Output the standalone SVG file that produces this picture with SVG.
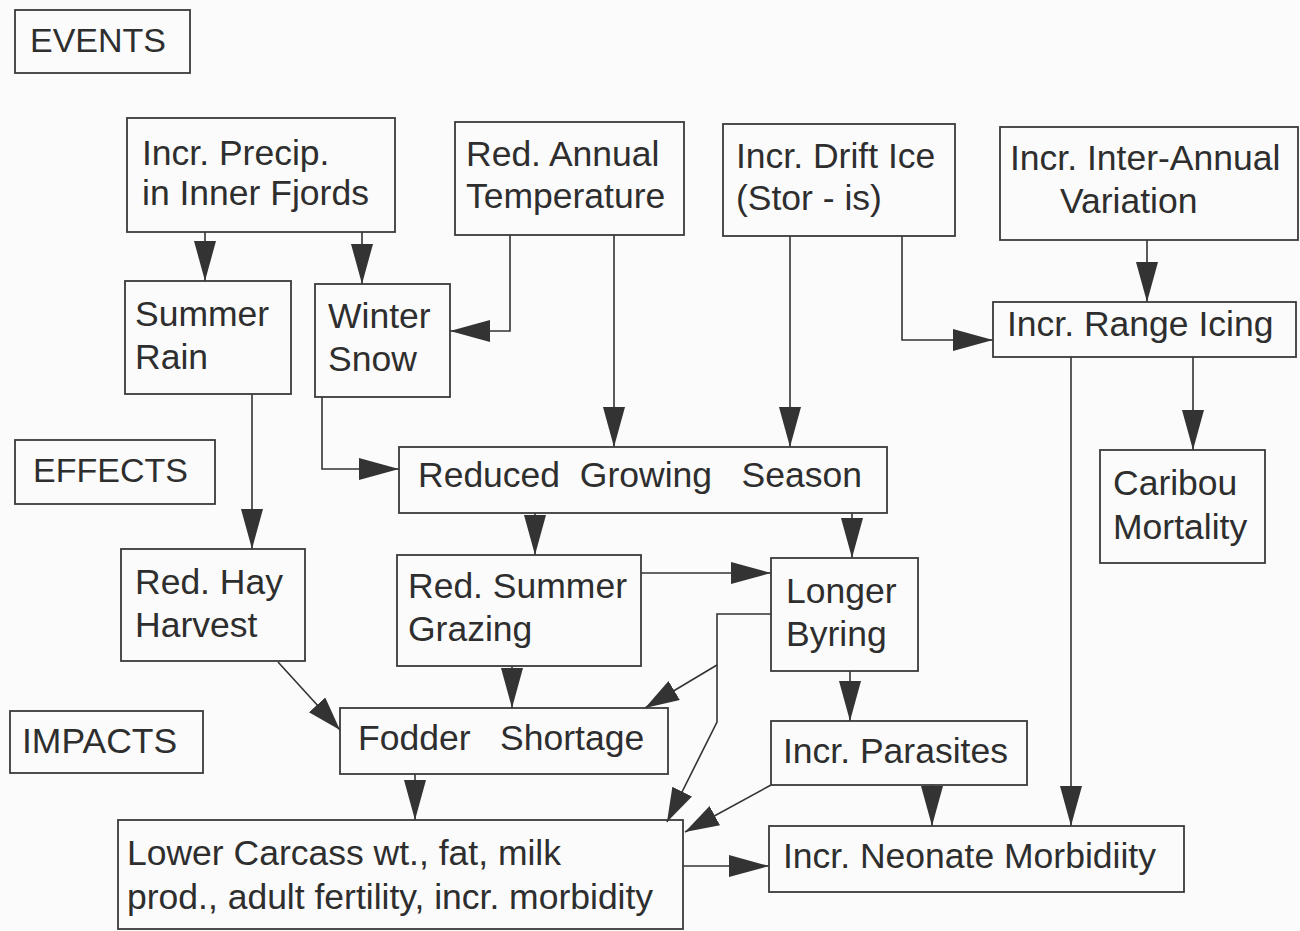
<svg xmlns="http://www.w3.org/2000/svg" width="1300" height="931" viewBox="0 0 1300 931">
<style>
.bg{fill:#fbfbfb}
.box{fill:none;stroke:#3a3a3a;stroke-width:1.8}
.t{font-family:"Liberation Sans",Arial,sans-serif;font-size:35.5px;fill:#2e2e2e}
.h{font-size:34px}
.c{fill:none;stroke:#333;stroke-width:1.6}
</style>
<defs>
<marker id="ah" markerUnits="userSpaceOnUse" markerWidth="42" markerHeight="24" refX="40" refY="11" orient="auto">
<path d="M0,0 L40,11 L0,22 z" fill="#333"/>
</marker>
<marker id="ahs" markerUnits="userSpaceOnUse" markerWidth="36" markerHeight="24" refX="34" refY="11" orient="auto">
<path d="M0,0 L34,11 L0,22 z" fill="#333"/>
</marker>
</defs>
<rect class="bg" x="0" y="0" width="1300" height="931"/>

<g id="connectors">
<path class="c" d="M205,232 V281" marker-end="url(#ah)"/>
<path class="c" d="M362,232 V284" marker-end="url(#ah)"/>
<path class="c" d="M510,235 V331 H450" marker-end="url(#ah)"/>
<path class="c" d="M614,235 V447" marker-end="url(#ah)"/>
<path class="c" d="M790,236 V447" marker-end="url(#ah)"/>
<path class="c" d="M902,236 V340 H993" marker-end="url(#ah)"/>
<path class="c" d="M1147,240 V302" marker-end="url(#ah)"/>
<path class="c" d="M1193,357 V450" marker-end="url(#ah)"/>
<path class="c" d="M1071,357 V826" marker-end="url(#ah)"/>
<path class="c" d="M252,394 V549" marker-end="url(#ah)"/>
<path class="c" d="M322,397 V469 H399" marker-end="url(#ah)"/>
<path class="c" d="M535,513 V555" marker-end="url(#ah)"/>
<path class="c" d="M852,513 V558" marker-end="url(#ah)"/>
<path class="c" d="M641,573 H771" marker-end="url(#ah)"/>
<path class="c" d="M278,662 L340,730" marker-end="url(#ahs)"/>
<path class="c" d="M512,666 V708" marker-end="url(#ah)"/>
<path class="c" d="M771,614 H717 V665 L645,708" marker-end="url(#ahs)"/>
<path class="c" d="M717,665 V722 L667,822" marker-end="url(#ahs)"/>
<path class="c" d="M415,774 V820" marker-end="url(#ah)"/>
<path class="c" d="M771,785 L685,832" marker-end="url(#ahs)"/>
<path class="c" d="M932,785 V826" marker-end="url(#ah)"/>
<path class="c" d="M683,866 H769" marker-end="url(#ah)"/>
<path class="c" d="M850,671 V721" marker-end="url(#ah)"/>
</g>

<g id="events"><rect class="box" x="15" y="10" width="175" height="63"/><text class="t h" x="30" y="52">EVENTS</text></g>
<g id="precip"><rect class="box" x="127" y="118" width="268" height="114"/><text class="t" x="142" y="165">Incr. Precip.</text><text class="t" x="142" y="205">in Inner Fjords</text></g>
<g id="annual-temp"><rect class="box" x="455" y="122" width="229" height="113"/><text class="t" x="466" y="166">Red. Annual</text><text class="t" x="466" y="208">Temperature</text></g>
<g id="drift-ice"><rect class="box" x="723" y="124" width="232" height="112"/><text class="t" x="736" y="168">Incr. Drift Ice</text><text class="t" x="736" y="210">(Stor - is)</text></g>
<g id="inter-annual"><rect class="box" x="1000" y="127" width="298" height="113"/><text class="t" x="1010" y="170">Incr. Inter-Annual</text><text class="t" x="1060" y="213">Variation</text></g>
<g id="summer-rain"><rect class="box" x="125" y="281" width="166" height="113"/><text class="t" x="135" y="326">Summer</text><text class="t" x="135" y="369">Rain</text></g>
<g id="winter-snow"><rect class="box" x="315" y="284" width="135" height="113"/><text class="t" x="328" y="328">Winter</text><text class="t" x="328" y="371">Snow</text></g>
<g id="range-icing"><rect class="box" x="993" y="302" width="303" height="55"/><text class="t" x="1007" y="336">Incr. Range Icing</text></g>
<g id="effects"><rect class="box" x="15" y="440" width="200" height="64"/><text class="t h" x="33" y="482">EFFECTS</text></g>
<g id="growing-season"><rect class="box" x="399" y="447" width="488" height="66"/><text class="t" x="418" y="487" xml:space="preserve">Reduced  Growing   Season</text></g>
<g id="caribou"><rect class="box" x="1100" y="450" width="165" height="113"/><text class="t" x="1113" y="495">Caribou</text><text class="t" x="1113" y="539">Mortality</text></g>
<g id="hay"><rect class="box" x="121" y="549" width="184" height="112"/><text class="t" x="135" y="594">Red. Hay</text><text class="t" x="135" y="637">Harvest</text></g>
<g id="summer-grazing"><rect class="box" x="397" y="555" width="244" height="111"/><text class="t" x="408" y="598">Red. Summer</text><text class="t" x="408" y="641">Grazing</text></g>
<g id="byring"><rect class="box" x="771" y="558" width="147" height="113"/><text class="t" x="786" y="603">Longer</text><text class="t" x="786" y="646">Byring</text></g>
<g id="impacts"><rect class="box" x="10" y="711" width="193" height="62"/><text class="t" x="22" y="753">IMPACTS</text></g>
<g id="fodder"><rect class="box" x="340" y="708" width="328" height="66"/><text class="t" x="358" y="750" xml:space="preserve">Fodder   Shortage</text></g>
<g id="parasites"><rect class="box" x="771" y="721" width="256" height="64"/><text class="t" x="783" y="763">Incr. Parasites</text></g>
<g id="carcass"><rect class="box" x="118" y="820" width="565" height="109"/><text class="t" x="127" y="865">Lower Carcass wt., fat, milk</text><text class="t" x="127" y="909">prod., adult fertility, incr. morbidity</text></g>
<g id="neonate"><rect class="box" x="769" y="826" width="415" height="66"/><text class="t" x="783" y="868">Incr. Neonate Morbidiity</text></g>
</svg>
